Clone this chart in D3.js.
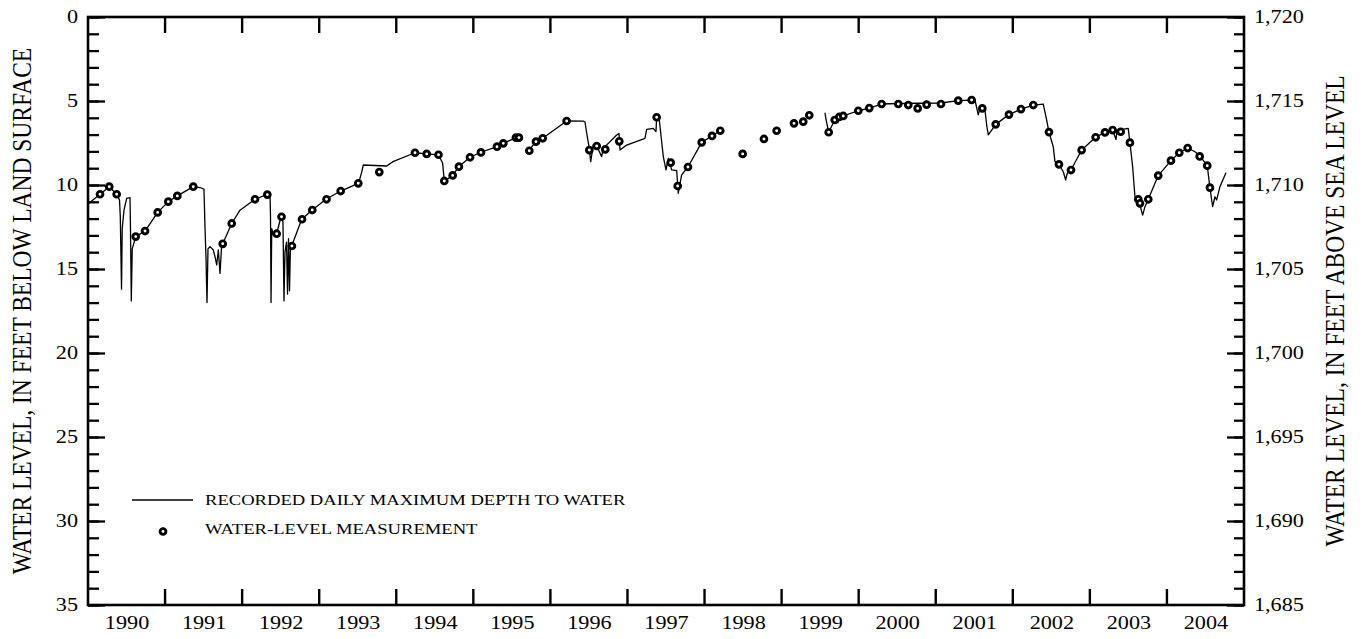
<!DOCTYPE html>
<html>
<head>
<meta charset="utf-8">
<script src="https://cdn.jsdelivr.net/npm/d3@7"></script>
<style>
  html, body { margin: 0; padding: 0; background: #fff; }
  svg { display: block; }
  text { font-family: "Liberation Serif", "Times New Roman", serif; fill: #000; }
</style>
</head>
<body>
<svg id="chart" width="1364" height="639"></svg>
<script>
// ---------- DATA ----------
// Recorded daily maximum depth to water (decimal year, feet below land surface); null = gap in record
const lineYears = [
  1990.000,1990.156,1990.276,1990.372,1990.409,1990.419,1990.435,1990.444,1990.467,1990.502,
  1990.545,1990.551,1990.562,1990.574,1990.619,1990.740,1990.904,1991.042,1991.159,1991.366,
  1991.453,1991.505,1991.518,1991.531,1991.544,1991.557,1991.583,1991.626,1991.648,1991.670,
  1991.691,1991.713,1991.735,1991.748,1991.865,1991.972,1992.167,1992.327,1992.362,1992.368,
  1992.375,1992.384,1992.407,1992.448,1992.504,1992.530,1992.543,1992.556,1992.576,1992.589,
  1992.602,1992.615,1992.627,1992.643,1992.773,1992.910,1993.088,1993.279,1993.507,1993.529,
  1993.551,1993.572,1993.876,1993.957,1994.243,1994.395,1994.550,1994.602,1994.623,1994.732,
  1994.810,1994.957,1995.099,1995.307,1995.389,1995.553,1995.605,1995.660,1995.716,1995.813,
  1995.900,1996.211,1996.427,1996.449,1996.471,1996.501,1996.523,1996.556,1996.601,1996.665,
  1996.686,1996.860,1996.890,1996.903,1996.990,1997.227,1997.249,1997.335,1997.370,1997.379,
  1997.413,1997.465,1997.500,1997.530,1997.574,1997.639,1997.659,1997.703,1997.785,1997.963,
  1998.097,1998.204,1998.900,1999.563,1999.576,1999.611,1999.689,1999.731,1999.748,1999.800,
  1999.995,2000.138,2000.298,2000.514,2001.068,2001.292,2001.509,2001.552,2001.574,2001.639,
  2001.661,2001.682,2001.726,2001.778,2001.950,2002.106,2002.266,2002.395,2002.439,2002.469,
  2002.525,2002.547,2002.599,2002.655,2002.686,2002.707,2002.755,2002.893,2003.075,2003.196,
  2003.296,2003.339,2003.351,2003.400,2003.498,2003.520,2003.555,2003.585,2003.628,2003.685,
  2003.715,2003.758,2003.887,2004.052,2004.160,2004.269,2004.364,2004.428,2004.523,2004.558,
  2004.593,2004.623,2004.645,2004.688,2004.766
];
const lineDepths = [
  11.13,10.55,10.10,10.55,10.90,11.90,16.20,12.60,11.50,10.80,
  10.75,12.50,16.90,13.80,13.07,12.74,11.63,10.99,10.65,10.10,
  10.15,10.25,12.50,14.30,17.00,13.80,13.67,13.87,14.27,14.76,
  13.87,15.26,13.53,13.50,12.29,11.50,10.85,10.55,10.60,11.80,
  17.00,12.60,13.00,12.90,11.89,12.20,16.90,14.00,13.40,16.50,
  13.20,16.30,13.60,13.63,12.04,11.49,10.85,10.36,9.90,9.60,
  9.25,8.81,8.87,8.61,8.08,8.15,8.21,8.71,9.76,9.44,
  8.91,8.35,8.05,7.72,7.52,7.18,7.15,null,7.96,7.42,
  7.22,6.19,6.20,6.25,6.92,7.72,8.61,7.62,7.68,8.31,
  7.82,7.02,6.93,7.92,7.62,7.22,6.69,6.63,6.82,5.97,
  6.13,8.31,9.10,8.41,9.10,9.15,10.49,9.40,8.93,7.46,
  7.08,6.77,null,5.70,6.10,6.86,6.13,6.30,5.93,5.89,
  5.58,5.42,5.18,5.15,5.12,4.98,4.94,5.83,5.44,5.54,
  6.43,7.02,6.73,6.39,5.81,5.48,5.24,5.18,6.13,6.85,
  7.72,8.61,8.77,9.21,9.70,9.30,9.11,7.92,7.16,6.87,
  6.73,7.30,6.80,6.70,6.63,7.48,8.91,10.70,10.85,11.79,
  11.29,10.85,9.44,8.55,8.08,7.80,8.02,8.27,8.85,10.16,
  11.29,10.70,10.89,10.10,9.27
];

// Water-level measurements (decimal year, feet below land surface)
const measYears = [
  1990.156,1990.276,1990.372,1990.619,1990.740,1990.904,1991.042,1991.159,1991.366,1991.748,
  1991.865,1992.167,1992.327,1992.448,1992.511,1992.646,1992.777,1992.910,1993.095,1993.279,
  1993.507,1993.780,1994.243,1994.395,1994.548,1994.623,1994.732,1994.813,1994.957,1995.099,
  1995.307,1995.389,1995.553,1995.592,1995.726,1995.813,1995.900,1996.211,1996.505,1996.601,
  1996.712,1996.894,1997.379,1997.561,1997.652,1997.785,1997.963,1998.097,1998.204,1998.495,
  1998.771,1998.936,1999.161,1999.281,1999.359,1999.611,1999.689,1999.748,1999.800,1999.995,
  2000.138,2000.298,2000.514,2000.644,2000.766,2000.882,2001.068,2001.292,2001.466,2001.604,
  2001.778,2001.950,2002.106,2002.266,2002.469,2002.599,2002.755,2002.893,2003.075,2003.196,
  2003.296,2003.400,2003.520,2003.628,2003.650,2003.758,2003.887,2004.052,2004.160,2004.269,
  2004.425,2004.523,2004.558
];
const measDepths = [
  10.55,10.10,10.55,13.07,12.74,11.63,10.99,10.65,10.10,13.50,
  12.29,10.85,10.57,12.90,11.89,13.63,12.04,11.49,10.85,10.36,
  9.90,9.23,8.08,8.15,8.20,9.76,9.43,8.91,8.35,8.06,
  7.72,7.52,7.18,7.18,7.96,7.42,7.22,6.19,7.92,7.68,
  7.88,7.40,5.97,8.67,10.06,8.93,7.46,7.08,6.77,8.15,
  7.26,6.77,6.33,6.23,5.85,6.86,6.13,5.95,5.89,5.58,
  5.42,5.18,5.18,5.24,5.44,5.22,5.18,4.98,4.94,5.44,
  6.39,5.81,5.48,5.24,6.85,8.77,9.11,7.92,7.16,6.87,
  6.73,6.83,7.48,10.85,11.09,10.85,9.44,8.55,8.08,7.80,
  8.30,8.85,10.16
];

const yearTicks = [1991,1992,1993,1994,1995,1996,1997,1998,1999,2000,2001,2002,2003,2004];
const yearLabels = [1990,1991,1992,1993,1994,1995,1996,1997,1998,1999,2000,2001,2002,2003,2004];
const depthMajorTicks = [0,5,10,15,20,25,30,35];
const altitudeMajorTicks = [1720,1715,1710,1705,1700,1695,1690,1685];
const legendLabels = ["RECORDED DAILY MAXIMUM DEPTH TO WATER", "WATER-LEVEL MEASUREMENT"];
const leftTitle = "WATER LEVEL, IN FEET BELOW LAND SURFACE";
const rightTitle = "WATER LEVEL, IN FEET ABOVE SEA LEVEL";

// ---------- LAYOUT ----------
const L = 88, R = 1244, T = 17, B = 605;
const SX = 1.2; // horizontal text stretch of the original figure

const svg = d3.select("#chart");

const x = d3.scaleLinear().domain([1990, 2005]).range([L, R]);
const y = d3.scaleLinear().domain([0, 35]).range([T, B]);
const y2 = d3.scaleLinear().domain([1720, 1685]).range([T, B]);

const stretch = sel => sel.attr("transform", `scale(${SX},1)`);
const noLabel = () => "";

// ---------- AXES ----------
function styleAxis(g) {
  g.select(".domain").remove();
  g.selectAll(".tick line").attr("stroke", "#000").attr("stroke-width", 2.3);
}

// left minor
svg.append("g").attr("transform", `translate(${L},0)`)
  .call(d3.axisLeft(y).tickValues(d3.range(0, 36, 1)).tickSize(-11).tickFormat(noLabel))
  .call(styleAxis);
// left major
const gl = svg.append("g").attr("transform", `translate(${L},0)`)
  .call(d3.axisLeft(y).tickValues(depthMajorTicks).tickSize(-17).tickPadding(8.3).tickFormat(d3.format("d")))
  .call(styleAxis);
gl.selectAll("text").attr("font-size", 18.5).attr("font-family", "Liberation Serif").call(stretch);

// right minor
svg.append("g").attr("transform", `translate(${R},0)`)
  .call(d3.axisRight(y2).tickValues(d3.range(1685, 1721, 1)).tickSize(-10).tickFormat(noLabel))
  .call(styleAxis);
// right major
const gr = svg.append("g").attr("transform", `translate(${R},0)`)
  .call(d3.axisRight(y2).tickValues(altitudeMajorTicks).tickSize(-17).tickPadding(8.3).tickFormat(d3.format(",")))
  .call(styleAxis);
gr.selectAll("text").attr("font-size", 18.5).attr("font-family", "Liberation Serif").call(stretch);

// year boundary ticks on bottom and top edges, pointing into the plot
const yearTickG = svg.append("g").attr("class", "year-ticks");
yearTickG.selectAll("line.bot").data(yearTicks).join("line").attr("class", "bot")
  .attr("x1", d => x(d)).attr("x2", d => x(d)).attr("y1", B).attr("y2", B - 16)
  .attr("stroke", "#000").attr("stroke-width", 2.4);
yearTickG.selectAll("line.top").data(yearTicks).join("line").attr("class", "top")
  .attr("x1", d => x(d)).attr("x2", d => x(d)).attr("y1", T).attr("y2", T + 16)
  .attr("stroke", "#000").attr("stroke-width", 2.4);

// year labels centred in each year
const gb = svg.append("g").attr("transform", `translate(0,${B})`)
  .call(d3.axisBottom(x).tickValues(yearLabels.map(v => v + 0.5)).tickSize(0).tickPadding(11)
    .tickFormat(v => String(Math.floor(v))))
  .call(styleAxis);
gb.selectAll(".tick line").remove();
gb.selectAll("text").attr("font-size", 18.5).attr("font-family", "Liberation Serif").call(stretch);

// frame
svg.append("rect").attr("x", L).attr("y", T).attr("width", R - L).attr("height", B - T)
  .attr("fill", "none").attr("stroke", "#000").attr("stroke-width", 2.6);

// ---------- TITLES ----------
svg.append("text")
  .attr("transform", `translate(22,${(T + B) / 2}) scale(${SX},1) rotate(-90)`)
  .attr("text-anchor", "middle").attr("dominant-baseline", "central")
  .attr("font-size", 23.5).text(leftTitle);
svg.append("text")
  .attr("transform", `translate(1335,${(T + B) / 2}) scale(${SX},1) rotate(-90)`)
  .attr("text-anchor", "middle").attr("dominant-baseline", "central")
  .attr("font-size", 23.5).text(rightTitle);

// ---------- DATA MARKS ----------
const lineData = lineYears.map((yr, i) => ({ yr, d: lineDepths[i] }));
const line = d3.line().defined(p => p.d !== null).x(p => x(p.yr)).y(p => y(p.d));
svg.append("path").datum(lineData)
  .attr("d", line).attr("fill", "none").attr("stroke", "#000").attr("stroke-width", 1.3)
  .attr("stroke-linejoin", "round");

const measData = measYears.map((yr, i) => ({ yr, d: measDepths[i] }));
svg.append("g").selectAll("circle").data(measData).join("circle")
  .attr("cx", p => x(p.yr)).attr("cy", p => y(p.d)).attr("r", 2.9)
  .attr("fill", "#fff").attr("stroke", "#000").attr("stroke-width", 2.9);

// ---------- LEGEND ----------
const leg = svg.append("g");
leg.append("line").attr("x1", 132).attr("x2", 193).attr("y1", 500).attr("y2", 500)
  .attr("stroke", "#000").attr("stroke-width", 1.3);
leg.append("text").attr("transform", `translate(205,500.5) scale(${SX},1)`)
  .attr("dominant-baseline", "central").attr("font-size", 15.5).text(legendLabels[0]);
leg.append("circle").attr("cx", 163).attr("cy", 531.5).attr("r", 2.9)
  .attr("fill", "#fff").attr("stroke", "#000").attr("stroke-width", 2.9);
leg.append("text").attr("transform", `translate(205,529.5) scale(${SX},1)`)
  .attr("dominant-baseline", "central").attr("font-size", 15.5).text(legendLabels[1]);
</script>
</body>
</html>
